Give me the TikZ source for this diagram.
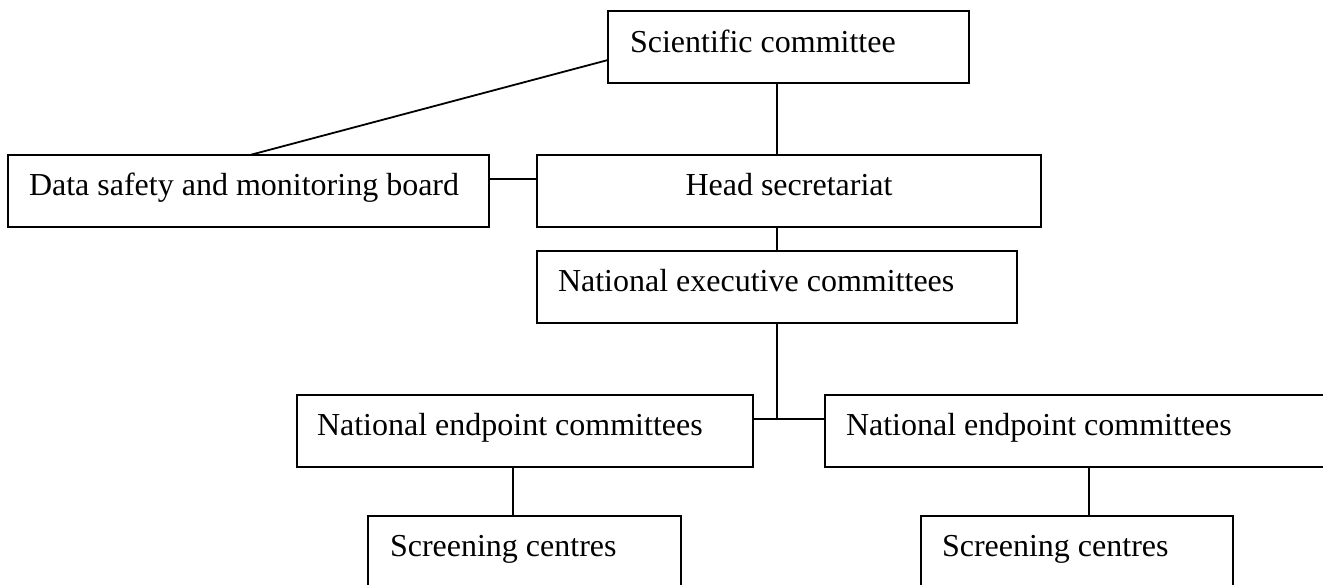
\documentclass[tikz,border=0pt]{standalone}
\usepackage{fontspec}
\setmainfont{Liberation Serif}
\usetikzlibrary{calc}
\begin{document}
\begin{tikzpicture}[x=1pt,y=-1pt,
  box/.style={draw, line width=2pt, inner sep=0pt, outer sep=0pt, minimum height=72pt},
  lbl/.style={anchor=base west, inner sep=0pt, outer sep=0pt, font=\fontsize{32}{38}\selectfont},
  link/.style={line width=1.8pt}]
\useasboundingbox (0,0) rectangle (1323,584);
\clip (0,0) rectangle (1323,584);
% boxes
\node[box, minimum width=361pt] (sci) at (788.5,47) {};
\node[box, minimum width=481pt] (dsmb) at (248.5,191) {};
\node[box, minimum width=504pt] (head) at (789,191) {};
\node[box, minimum width=480pt] (exec) at (777,287) {};
\node[box, minimum width=456pt] (necL) at (525,431) {};
\node[box, minimum width=510pt] (necR) at (1080,431) {};
\node[box, minimum width=313pt, minimum height=84pt] (scrL) at (524.5,558) {};
\node[box, minimum width=312pt, minimum height=84pt] (scrR) at (1077,558) {};
% texts
\node[lbl] (tsci) at ($(sci.north west)+(22,41)$) {Scientific committee};
\node[lbl] (tdsmb) at ($(dsmb.north west)+(21,40)$) {Data safety and monitoring board};
\node[lbl, anchor=base] (thead) at ($(head.north)+(0,40)$) {Head secretariat};
\node[lbl] (texec) at ($(exec.north west)+(21,40)$) {National executive committees};
\node[lbl] (tnecL) at ($(necL.north west)+(20,40)$) {National endpoint committees};
\node[lbl] (tnecR) at ($(necR.north west)+(21,40)$) {National endpoint committees};
\node[lbl] (tscrL) at ($(scrL.north west)+(22,40)$) {Screening centres};
\node[lbl] (tscrR) at ($(scrR.north west)+(21,40)$) {Screening centres};
% connectors
\coordinate (jn) at (777,419);
\draw[link] ([xshift=1.5pt]dsmb.north) -- ([yshift=-13pt]sci.west);
\draw[link] (sci.south -| exec.north) -- (head.north -| exec.north);
\draw[link] ([yshift=12pt]dsmb.east) -- ([yshift=12pt]head.west);
\draw[link] (head.south -| exec.north) -- (exec.north);
\draw[link] (exec.south) -- (jn);
\draw[link] ([yshift=12pt]necL.east) -- ([yshift=12pt]necR.west);
\draw[link] ([xshift=-12pt]necL.south) -- ([xshift=-12pt]necL.south |- scrL.north);
\draw[link] ([xshift=12pt]scrR.north |- necR.south) -- ([xshift=12pt]scrR.north);
\end{tikzpicture}
\end{document}
